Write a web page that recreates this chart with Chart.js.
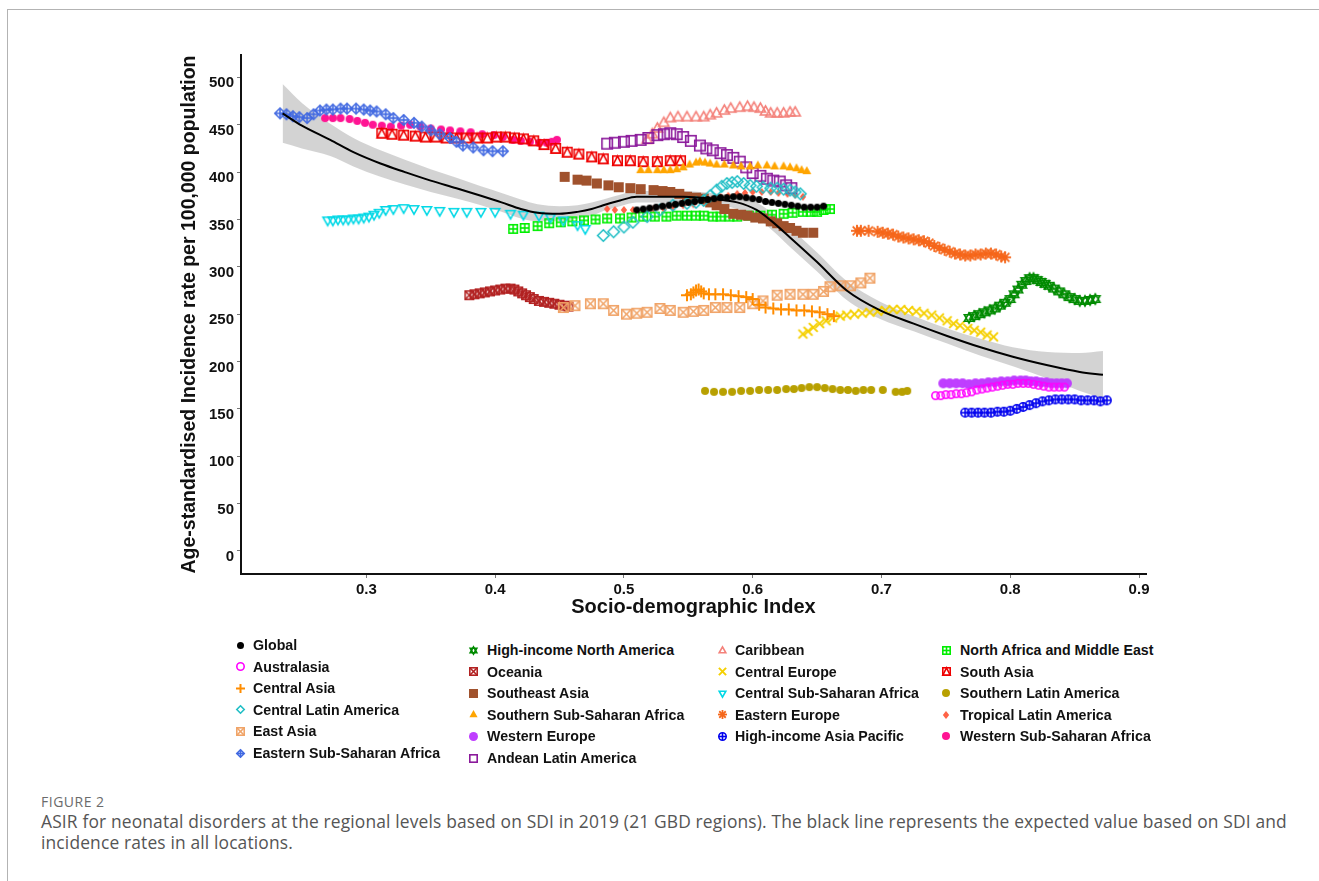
<!DOCTYPE html>
<html>
<head>
<meta charset="utf-8">
<script src="https://cdn.jsdelivr.net/npm/chart.js@4.4.1/dist/chart.umd.min.js"></script>
<style>
  html, body { margin:0; padding:0; background:#fff; }
  body { width:1319px; height:881px; position:relative; overflow:hidden; }
  #frame { position:absolute; left:7px; top:9px; width:1312px; height:880px; border-top:1.5px solid #b3b3b3; border-left:1.5px solid #b3b3b3; }
  #c { position:absolute; left:0; top:0; }
  .lg { position:absolute; font-family:"Liberation Sans", Arial, sans-serif; font-weight:bold; font-size:14.2px; color:#111; white-space:nowrap; line-height:16px; }
  .mk { position:absolute; }
  #fig { position:absolute; left:41px; top:792px; font-family:"Open Sans", sans-serif; font-size:14px; color:#6b6b6b; letter-spacing:0.5px; }
  #cap { position:absolute; left:41px; top:811px; font-family:"Open Sans", sans-serif; font-size:17.4px; letter-spacing:0.15px; line-height:20.5px; color:#555; white-space:nowrap; }
</style>
</head>
<body>
<div id="frame"></div>
<canvas id="c" width="1319" height="640"></canvas>
<div id="legend"></div>
<div id="fig">FIGURE 2</div>
<div id="cap">ASIR for neonatal disorders at the regional levels based on SDI in 2019 (21 GBD regions). The black line represents the expected value based on SDI and<br>incidence rates in all locations.</div>
<script>
// ---------------- DATA ([SDI, ASIR]) ----------------
const xTicks = [0.3, 0.4, 0.5, 0.6, 0.7, 0.8, 0.9];
const yTicks = [0, 50, 100, 150, 200, 250, 300, 350, 400, 450, 500];

const ptsGlobal = [[0.510,360],[0.515,361],[0.520,362],[0.525,363],[0.530,364],[0.535,365],[0.540,366],[0.545,367],[0.550,368],[0.555,369],[0.560,370],[0.565,371],[0.570,372],[0.575,373],[0.580,373],[0.585,374],[0.590,374],[0.595,373],[0.600,372],[0.605,371],[0.610,369],[0.615,368],[0.620,367],[0.625,366],[0.630,365],[0.635,364],[0.640,363],[0.645,363],[0.650,363],[0.655,364]];
const ptsAustralasia = [[0.742,164],[0.746,164],[0.750,165],[0.754,165],[0.758,166],[0.762,166],[0.766,167],[0.770,168],[0.774,170],[0.778,171],[0.782,172],[0.786,173],[0.790,174],[0.794,175],[0.798,176],[0.802,176],[0.806,177],[0.810,177],[0.814,177],[0.818,176],[0.822,175],[0.826,174],[0.830,173],[0.834,173],[0.838,173],[0.842,173]];
const ptsCentralAsia = [[0.549,270],[0.552,271],[0.554,273],[0.556,275],[0.558,276],[0.560,274],[0.562,272],[0.566,271],[0.571,271],[0.577,271],[0.583,270],[0.589,269],[0.595,268],[0.600,266],[0.605,260],[0.610,257],[0.616,256],[0.622,255],[0.628,255],[0.634,254],[0.640,254],[0.646,253],[0.652,252],[0.658,250],[0.663,248]];
const ptsCentralLatAm = [[0.484,333],[0.492,337],[0.500,342],[0.507,347],[0.518,353],[0.528,360],[0.538,365],[0.549,367],[0.556,368],[0.562,370],[0.567,375],[0.572,381],[0.576,385],[0.580,388],[0.584,389],[0.588,390],[0.593,388],[0.598,386],[0.603,385],[0.608,384],[0.614,383],[0.619,383],[0.624,382],[0.629,381],[0.633,379],[0.637,377]];
const ptsEastAsia = [[0.453,257],[0.462,259],[0.474,261],[0.484,261],[0.492,254],[0.502,250],[0.510,251],[0.518,252],[0.528,256],[0.536,254],[0.546,252],[0.554,253],[0.562,254],[0.571,257],[0.580,257],[0.590,257],[0.600,261],[0.608,264],[0.619,270],[0.629,271],[0.639,271],[0.647,271],[0.655,274],[0.660,279],[0.668,280],[0.676,280],[0.684,283],[0.691,288]];
const ptsEasternSSA = [[0.233,462],[0.238,461],[0.243,459],[0.248,458],[0.254,457],[0.259,461],[0.264,465],[0.269,466],[0.274,466],[0.280,467],[0.285,467],[0.292,467],[0.298,466],[0.303,465],[0.308,464],[0.315,461],[0.321,457],[0.329,455],[0.337,452],[0.343,448],[0.350,444],[0.357,440],[0.365,436],[0.370,432],[0.375,428],[0.383,426],[0.391,423],[0.398,422],[0.406,422]];
const ptsHINorthAmerica = [[0.768,246],[0.772,248],[0.776,250],[0.780,252],[0.784,254],[0.788,256],[0.792,259],[0.796,262],[0.800,266],[0.803,271],[0.806,276],[0.809,281],[0.812,285],[0.815,288],[0.818,288],[0.821,286],[0.824,284],[0.827,282],[0.830,280],[0.834,277],[0.838,274],[0.842,271],[0.846,268],[0.850,266],[0.854,264],[0.858,264],[0.862,265],[0.866,266]];
const ptsOceania = [[0.380,270],[0.384,271],[0.388,272],[0.392,273],[0.396,274],[0.400,275],[0.404,276],[0.408,277],[0.412,277],[0.415,276],[0.418,274],[0.421,272],[0.424,270],[0.427,268],[0.430,266],[0.434,264],[0.438,263],[0.442,262],[0.446,261],[0.450,260],[0.454,259],[0.457,258]];
const ptsSoutheastAsia = [[0.454,395],[0.464,392],[0.471,391],[0.479,388],[0.488,386],[0.496,384],[0.505,383],[0.513,382],[0.523,381],[0.530,380],[0.536,379],[0.543,377],[0.549,374],[0.556,373],[0.562,372],[0.567,368],[0.572,365],[0.578,361],[0.585,356],[0.591,355],[0.596,354],[0.602,352],[0.608,351],[0.614,348],[0.619,346],[0.624,343],[0.629,341],[0.634,338],[0.639,336],[0.647,336]];
const ptsSouthernSSA = [[0.513,402],[0.519,402],[0.526,402],[0.531,402],[0.536,402],[0.541,403],[0.546,405],[0.551,408],[0.556,410],[0.559,411],[0.563,410],[0.567,409],[0.572,408],[0.578,408],[0.585,407],[0.591,406],[0.598,406],[0.604,407],[0.611,407],[0.617,406],[0.624,406],[0.629,405],[0.634,404],[0.638,402],[0.642,401]];
const ptsWesternEurope = [[0.748,177],[0.753,177],[0.758,177],[0.763,177],[0.768,176],[0.773,177],[0.778,177],[0.783,178],[0.788,178],[0.793,179],[0.798,179],[0.803,180],[0.808,180],[0.812,180],[0.816,179],[0.820,179],[0.824,178],[0.828,178],[0.832,177],[0.836,177],[0.840,177],[0.844,177]];
const ptsAndeanLatAm = [[0.487,430],[0.493,431],[0.500,432],[0.506,433],[0.513,434],[0.519,436],[0.526,439],[0.531,440],[0.536,441],[0.541,440],[0.546,437],[0.552,433],[0.559,428],[0.564,425],[0.569,423],[0.575,420],[0.580,418],[0.585,415],[0.590,411],[0.595,405],[0.600,399],[0.606,396],[0.611,393],[0.616,391],[0.621,390],[0.626,386],[0.630,383]];
const ptsCaribbean = [[0.518,434],[0.522,440],[0.526,446],[0.531,452],[0.536,457],[0.542,458],[0.549,458],[0.556,458],[0.562,458],[0.567,460],[0.572,462],[0.578,465],[0.583,467],[0.590,468],[0.596,469],[0.601,468],[0.606,467],[0.610,464],[0.614,462],[0.619,462],[0.624,462],[0.629,463],[0.633,463]];
const ptsCentralEurope = [[0.639,229],[0.643,232],[0.647,236],[0.652,240],[0.657,243],[0.662,246],[0.668,248],[0.673,249],[0.679,250],[0.685,251],[0.691,252],[0.697,253],[0.703,254],[0.709,255],[0.715,255],[0.721,254],[0.727,253],[0.733,251],[0.739,249],[0.745,246],[0.751,243],[0.756,240],[0.761,238],[0.767,235],[0.772,233],[0.777,231],[0.782,228],[0.787,226]];
const ptsCentralSSA = [[0.270,349],[0.274,349],[0.278,350],[0.282,350],[0.286,350],[0.290,351],[0.294,351],[0.298,352],[0.302,353],[0.306,355],[0.310,357],[0.315,360],[0.321,361],[0.329,362],[0.337,361],[0.347,360],[0.357,359],[0.368,358],[0.378,358],[0.389,358],[0.400,358],[0.412,356],[0.422,355],[0.434,354],[0.443,352],[0.453,349],[0.464,344],[0.470,340]];
const ptsEasternEurope = [[0.681,338],[0.684,338],[0.690,338],[0.697,337],[0.701,336],[0.705,335],[0.709,334],[0.713,332],[0.717,331],[0.721,330],[0.725,329],[0.729,328],[0.733,327],[0.737,325],[0.741,322],[0.745,320],[0.749,318],[0.753,316],[0.757,314],[0.761,313],[0.765,312],[0.769,312],[0.773,313],[0.777,313],[0.781,314],[0.785,314],[0.789,313],[0.793,311],[0.796,310]];
const ptsHIAsiaPacific = [[0.765,146],[0.770,146],[0.775,146],[0.780,146],[0.785,146],[0.790,147],[0.795,147],[0.800,148],[0.805,150],[0.810,152],[0.815,154],[0.820,156],[0.825,158],[0.830,159],[0.835,160],[0.840,160],[0.845,160],[0.850,160],[0.855,159],[0.860,159],[0.865,159],[0.870,158],[0.875,159]];
const ptsNAfricaME = [[0.414,340],[0.423,341],[0.433,343],[0.442,346],[0.451,347],[0.460,348],[0.469,349],[0.478,350],[0.487,351],[0.497,351],[0.506,352],[0.515,353],[0.524,353],[0.533,353],[0.541,354],[0.549,354],[0.556,354],[0.562,354],[0.569,353],[0.575,353],[0.582,353],[0.588,353],[0.597,354],[0.606,354],[0.615,355],[0.624,356],[0.631,357],[0.639,358],[0.645,358],[0.650,358],[0.655,360],[0.660,361]];
const ptsSouthAsia = [[0.312,441],[0.320,440],[0.329,439],[0.338,438],[0.346,437],[0.354,437],[0.362,436],[0.370,436],[0.378,436],[0.386,436],[0.394,436],[0.401,437],[0.408,437],[0.415,436],[0.422,435],[0.430,433],[0.438,429],[0.447,425],[0.456,421],[0.465,419],[0.475,416],[0.484,414],[0.495,412],[0.505,412],[0.515,411],[0.526,411],[0.536,412],[0.544,412]];
const ptsSouthernLatAm = [[0.563,169],[0.570,168],[0.577,168],[0.584,168],[0.591,169],[0.598,169],[0.605,170],[0.612,170],[0.619,170],[0.626,171],[0.632,171],[0.638,172],[0.644,173],[0.650,173],[0.656,172],[0.662,171],[0.668,170],[0.674,170],[0.680,169],[0.686,170],[0.692,170],[0.701,170],[0.711,168],[0.716,168],[0.720,169]];
const ptsTropicalLatAm = [[0.487,361],[0.493,360],[0.500,360],[0.507,360],[0.515,360],[0.523,361],[0.531,361],[0.538,363],[0.546,365],[0.554,366],[0.562,368],[0.568,371],[0.575,374],[0.581,375],[0.588,377],[0.594,378],[0.600,379],[0.607,379],[0.614,379],[0.620,378],[0.627,377],[0.633,376],[0.639,374]];
const ptsWesternSSA = [[0.268,457],[0.274,457],[0.280,457],[0.287,456],[0.293,454],[0.299,452],[0.305,450],[0.312,449],[0.319,448],[0.327,449],[0.334,450],[0.342,448],[0.350,446],[0.358,445],[0.365,444],[0.373,443],[0.381,442],[0.390,440],[0.399,439],[0.406,437],[0.414,434],[0.420,433],[0.427,432],[0.434,431],[0.440,431],[0.444,432],[0.448,434]];

// expected-value curve and its confidence band
const smoothX = [0.235,0.25,0.272,0.29,0.311,0.33,0.35,0.37,0.389,0.405,0.42,0.433,0.45,0.464,0.475,0.484,0.497,0.51,0.526,0.546,0.567,0.588,0.603,0.614,0.629,0.65,0.673,0.699,0.725,0.751,0.777,0.802,0.829,0.854,0.872];
const smoothY = [462,449,434,421,409,400,391,383,375,368,361,357,356,358,361,365,370,374,374,374,372,368,360,349,331,305,275,254,240,227,215,205,196,189,186];
const bandUpper = [493,473,451,436,423,413,403,394,385,378,371,366,364,365,368,371,376,380,380,380,378,375,368,358,341,315,285,263,248,235,224,215,210,209,211];
const bandLower = [431,425,417,406,395,387,379,372,365,358,351,348,348,351,354,359,364,368,368,368,366,361,352,340,321,295,265,245,232,219,206,195,182,169,161];

// ---------------- STYLE ----------------
const FONT = '"Liberation Sans", Arial, sans-serif';
const series = [
  {label:'Global', pts:ptsGlobal, color:'#000000', shape:'dot', size:7},
  {label:'Australasia', pts:ptsAustralasia, color:'#ff00ff', shape:'ring', size:9},
  {label:'Central Asia', pts:ptsCentralAsia, color:'#ff8c00', shape:'plus', size:12},
  {label:'Central Latin America', pts:ptsCentralLatAm, color:'#22bfc6', shape:'diamond', size:13},
  {label:'East Asia', pts:ptsEastAsia, color:'#f0a468', shape:'squareX', size:11},
  {label:'Eastern Sub-Saharan Africa', pts:ptsEasternSSA, color:'#4169e1', shape:'diamondPlus', size:12},
  {label:'High-income North America', pts:ptsHINorthAmerica, color:'#008b00', shape:'star6', size:12},
  {label:'Oceania', pts:ptsOceania, color:'#b22222', shape:'squareX', size:10},
  {label:'Southeast Asia', pts:ptsSoutheastAsia, color:'#a0522d', shape:'square', size:10},
  {label:'Southern Sub-Saharan Africa', pts:ptsSouthernSSA, color:'#ffa500', shape:'triFill', size:10},
  {label:'Western Europe', pts:ptsWesternEurope, color:'#bf3eff', shape:'dot', size:10},
  {label:'Andean Latin America', pts:ptsAndeanLatAm, color:'#8b1a9b', shape:'squareOpen', size:12},
  {label:'Caribbean', pts:ptsCaribbean, color:'#f4817a', shape:'triOpen', size:13},
  {label:'Central Europe', pts:ptsCentralEurope, color:'#f5d000', shape:'x', size:11},
  {label:'Central Sub-Saharan Africa', pts:ptsCentralSSA, color:'#00d8e6', shape:'triDown', size:12},
  {label:'Eastern Europe', pts:ptsEasternEurope, color:'#f5661a', shape:'asterisk', size:12},
  {label:'High-income Asia Pacific', pts:ptsHIAsiaPacific, color:'#0000ee', shape:'circlePlus', size:10},
  {label:'North Africa and Middle East', pts:ptsNAfricaME, color:'#00ee00', shape:'squarePlus', size:10},
  {label:'South Asia', pts:ptsSouthAsia, color:'#ee0000', shape:'squareTri', size:11},
  {label:'Southern Latin America', pts:ptsSouthernLatAm, color:'#b8a000', shape:'dot', size:8},
  {label:'Tropical Latin America', pts:ptsTropicalLatAm, color:'#ff6347', shape:'diamondFill', size:8},
  {label:'Western Sub-Saharan Africa', pts:ptsWesternSSA, color:'#ff1493', shape:'dot', size:8}
];
const legendCols = [
  ['Global','Australasia','Central Asia','Central Latin America','East Asia','Eastern Sub-Saharan Africa'],
  ['High-income North America','Oceania','Southeast Asia','Southern Sub-Saharan Africa','Western Europe','Andean Latin America'],
  ['Caribbean','Central Europe','Central Sub-Saharan Africa','Eastern Europe','High-income Asia Pacific'],
  ['North Africa and Middle East','South Asia','Southern Latin America','Tropical Latin America','Western Sub-Saharan Africa']
];
const legendColX = [[240,253],[473,487],[722,735],[946,960]];
const legendColY0 = [645,650,650,650];
const legendStep = 21.6;

function marker(shape, color, size, lw) {
  const pad = 2, W = Math.ceil(size + pad * 2);
  const c = document.createElement('canvas');
  c.width = W; c.height = W;
  const g = c.getContext('2d');
  g.translate(W / 2, W / 2);
  g.strokeStyle = color; g.fillStyle = color; g.lineWidth = lw || 1.6;
  const r = size / 2, q = r - g.lineWidth / 2;
  const line = (a, b, c2, d) => { g.beginPath(); g.moveTo(a, b); g.lineTo(c2, d); g.stroke(); };
  const tri = (rr, down) => { const s = down ? -1 : 1; g.beginPath(); g.moveTo(0, -s * rr); g.lineTo(rr * 0.9, s * rr * 0.62); g.lineTo(-rr * 0.9, s * rr * 0.62); g.closePath(); };
  switch (shape) {
    case 'dot': g.beginPath(); g.arc(0, 0, r, 0, Math.PI * 2); g.fill(); break;
    case 'ring': g.beginPath(); g.arc(0, 0, q, 0, Math.PI * 2); g.stroke(); break;
    case 'plus': g.lineWidth = 2; line(-r, 0, r, 0); line(0, -r, 0, r); break;
    case 'x': g.lineWidth = 2; { const k = r * 0.8; line(-k, -k, k, k); line(-k, k, k, -k); } break;
    case 'asterisk': g.lineWidth = 1.8; { const k = r * 0.72; line(-r, 0, r, 0); line(0, -r, 0, r); line(-k, -k, k, k); line(-k, k, k, -k); } break;
    case 'diamond': g.beginPath(); g.moveTo(0, -q); g.lineTo(q, 0); g.lineTo(0, q); g.lineTo(-q, 0); g.closePath(); g.stroke(); break;
    case 'diamondPlus': g.beginPath(); g.moveTo(0, -q); g.lineTo(q, 0); g.lineTo(0, q); g.lineTo(-q, 0); g.closePath(); g.stroke(); line(-q, 0, q, 0); line(0, -q, 0, q); break;
    case 'diamondFill': g.beginPath(); g.moveTo(0, -r); g.lineTo(r * 0.8, 0); g.lineTo(0, r); g.lineTo(-r * 0.8, 0); g.closePath(); g.fill(); break;
    case 'square': g.fillRect(-r, -r, size, size); break;
    case 'squareOpen': g.strokeRect(-q, -q, 2 * q, 2 * q); break;
    case 'squareX': g.strokeRect(-q, -q, 2 * q, 2 * q); line(-q, -q, q, q); line(-q, q, q, -q); break;
    case 'squarePlus': g.strokeRect(-q, -q, 2 * q, 2 * q); line(-q, 0, q, 0); line(0, -q, 0, q); break;
    case 'squareTri': g.strokeRect(-q, -q, 2 * q, 2 * q); g.beginPath(); g.moveTo(0, -q); g.lineTo(q, q); g.lineTo(-q, q); g.closePath(); g.stroke(); break;
    case 'triFill': tri(r, false); g.fill(); break;
    case 'triOpen': tri(q, false); g.stroke(); break;
    case 'triDown': tri(q, true); g.stroke(); break;
    case 'circlePlus': g.beginPath(); g.arc(0, 0, q, 0, Math.PI * 2); g.stroke(); line(-q, 0, q, 0); line(0, -q, 0, q); break;
    case 'star6': tri(q, false); g.stroke(); tri(q, true); g.stroke(); break;
  }
  return c;
}

const toXY = pts => pts.map(p => ({x: p[0], y: p[1]}));
const datasets = [];
datasets.push({type:'line', label:'expected', data: smoothX.map((x, i) => ({x, y: smoothY[i]})), borderColor:'#000', borderWidth:2, pointRadius:0, fill:false, tension:0.4, cubicInterpolationMode:'monotone', order:0});
series.forEach(s => datasets.push({type:'scatter', label:s.label, data: toXY(s.pts), pointStyle: marker(s.shape, s.color, s.size), backgroundColor:s.color, borderColor:s.color, order:1}));
datasets.push({type:'line', label:'bandUpper', data: smoothX.map((x, i) => ({x, y: bandUpper[i]})), borderWidth:0, pointRadius:0, tension:0.4, cubicInterpolationMode:'monotone', fill:'+1', backgroundColor:'rgba(200,200,200,0.8)', order:2});
datasets.push({type:'line', label:'bandLower', data: smoothX.map((x, i) => ({x, y: bandLower[i]})), borderWidth:0, pointRadius:0, tension:0.4, cubicInterpolationMode:'monotone', fill:false, order:2});

const axisCommon = {
  type:'linear',
  grid:{display:true, drawOnChartArea:false, drawTicks:true, tickLength:4, color:'#777', lineWidth:1},
  border:{display:true, color:'#111', width:2},
  ticks:{font:{family:FONT, size:15, weight:'bold'}, color:'#111', padding:3, maxRotation:0}
};

const chart = new Chart(document.getElementById('c'), {
  data:{datasets},
  options:{
    responsive:false, animation:false, events:[],
    layout:{padding:{left:160, right:173, top:55, bottom:0}},
    plugins:{legend:{display:false}, tooltip:{enabled:false}},
    scales:{
      x: Object.assign({}, axisCommon, {
        position:'bottom', min:0.2027, max:0.9054,
        afterBuildTicks: s => { s.ticks = xTicks.map(v => ({value:v})); },
        afterFit: s => { s.height = 66; },
        ticks: Object.assign({}, axisCommon.ticks, {callback: v => v.toFixed(1)}),
        title:{display:true, text:'Socio-demographic Index', color:'#111', font:{family:FONT, size:20, weight:'bold'}, padding:{top:0, bottom:21}}
      }),
      y: Object.assign({}, axisCommon, {
        position:'left', min:-24.3, max:523.6,
        afterBuildTicks: s => { s.ticks = yTicks.map(v => ({value:v})); },
        afterFit: s => { s.width = 81; },
        ticks: Object.assign({}, axisCommon.ticks, {callback: v => String(v), labelOffset:6}),
        title:{display:true, text:'Age-standardised Incidence rate per 100,000 population', color:'#111', font:{family:FONT, size:19.5, weight:'bold'}, padding:{top:18, bottom:0}}
      })
    }
  }
});

// HTML legend built from the chart's datasets
const lg = document.getElementById('legend');
legendCols.forEach((col, ci) => {
  col.forEach((name, ri) => {
    const ds = chart.data.datasets.find(d => d.label === name);
    const s = series.find(t => t.label === name);
    const y = legendColY0[ci] + ri * legendStep;
    const m = marker(s.shape, s.color, Math.min(s.size, 9), 1.6);
    m.className = 'mk';
    m.style.left = (legendColX[ci][0] - m.width / 2) + 'px';
    m.style.top = (y - m.height / 2) + 'px';
    lg.appendChild(m);
    const t = document.createElement('div');
    t.className = 'lg';
    t.textContent = ds.label;
    t.style.left = legendColX[ci][1] + 'px';
    t.style.top = (y - 8) + 'px';
    lg.appendChild(t);
  });
});
</script>
</body>
</html>
